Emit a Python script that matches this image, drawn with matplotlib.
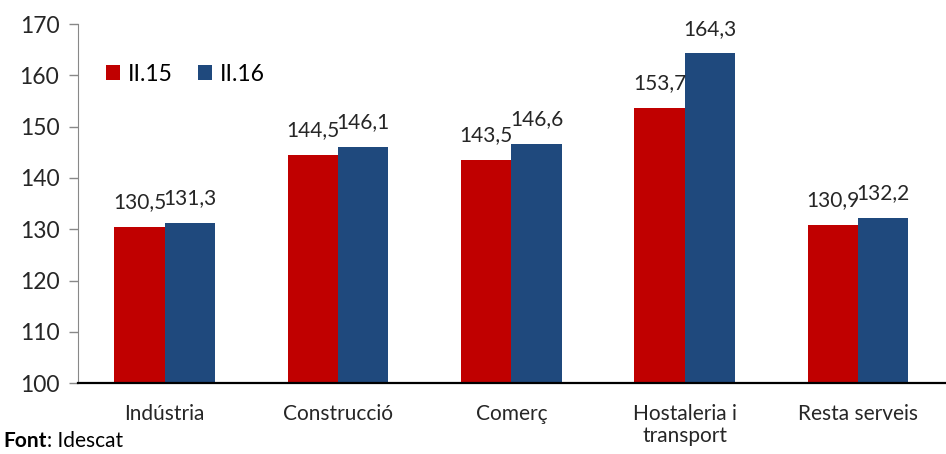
import matplotlib
matplotlib.use("Agg")
import matplotlib.pyplot as plt
import numpy as np

categories = ["Indústria", "Construcció", "Comerç", "Hostaleria i\ntransport", "Resta serveis"]
ii15 = [130.5, 144.5, 143.5, 153.7, 130.9]
ii16 = [131.3, 146.1, 146.6, 164.3, 132.2]
series_names = ["II.15", "II.16"]
yticks = [100, 110, 120, 130, 140, 150, 160, 170]

RED = "#C00000"
BLUE = "#1F497D"
TXT = "#262626"

plt.rcParams["font.family"] = ["Lato", "DejaVu Sans"]

fig = plt.figure(figsize=(9.46, 4.54), dpi=100)
ax = fig.add_axes([0.0825, 0.156, 0.916, 0.791])

x = np.arange(len(categories))
w = 0.29
ax.bar(x - w / 2, np.array(ii15) - 100, w, bottom=100, color=RED, label=series_names[0])
ax.bar(x + w / 2, np.array(ii16) - 100, w, bottom=100, color=BLUE, label=series_names[1])

for xs, vals in ((x - w / 2, ii15), (x + w / 2, ii16)):
    for xi, v in zip(xs, vals):
        ax.annotate(f"{v:.1f}".replace(".", ","), (xi, v), xytext=(0, 10.5),
                    textcoords="offset points", ha="center", va="bottom",
                    fontsize=15, color=TXT)

ax.set_xlim(-0.5, len(categories) - 0.5)
ax.set_ylim(100, 170)
ax.set_yticks(yticks)
ax.set_xticks(x)
ax.set_xticklabels(categories, fontsize=15, color=TXT, linespacing=1.15)
ax.tick_params(axis="x", length=0, pad=15)
ax.tick_params(axis="y", length=6.5, width=1, color="#888888", labelsize=16.5,
               labelcolor=TXT, pad=7)

for s in ("top", "right"):
    ax.spines[s].set_visible(False)
ax.spines["left"].set_color("#888888")
ax.spines["bottom"].set_color("black")
ax.spines["bottom"].set_linewidth(1.6)

ax.legend(loc="upper left", bbox_to_anchor=(0.022, 0.915), frameon=False, fontsize=16.5,
          handlelength=0.6, handleheight=0.6, handletextpad=0.35, columnspacing=1.1,
          ncol=2, borderaxespad=0)

t1 = fig.text(0.004, 0.015, "Font", fontsize=15, fontweight="bold", color="black")
fig.canvas.draw()
bb = t1.get_window_extent()
fig.text(bb.x1 / fig.bbox.width, 0.015, ": Idescat", fontsize=15, color="black")

fig.savefig("out.png", dpi=100)
